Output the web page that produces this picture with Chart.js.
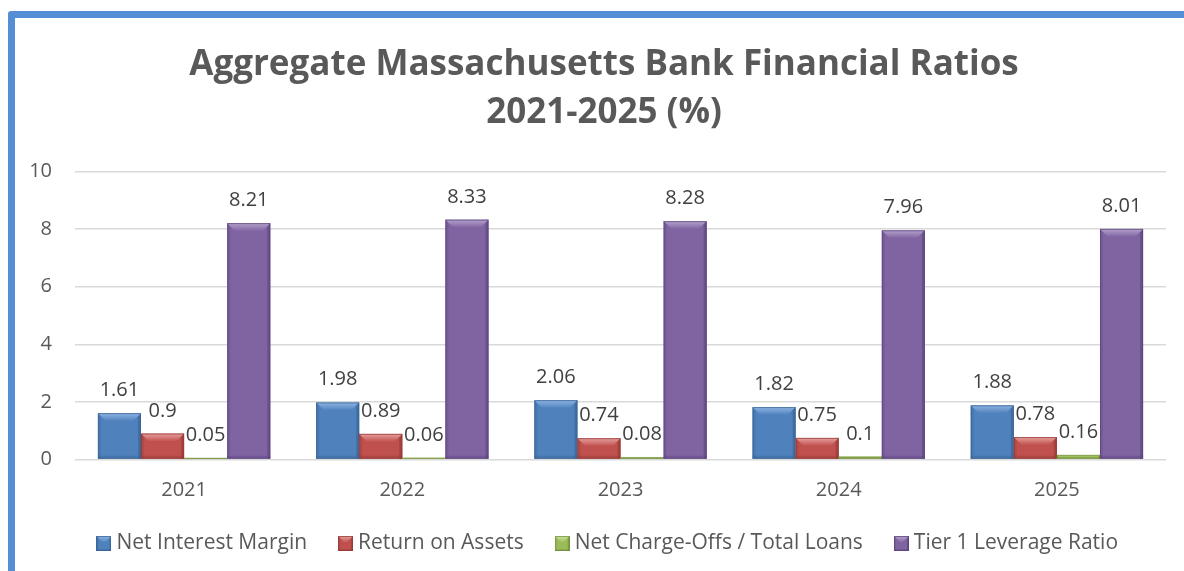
<!DOCTYPE html>
<html>
<head>
<meta charset="utf-8">
<script src="https://cdn.jsdelivr.net/npm/chart.js@4.4.1/dist/chart.umd.min.js"></script>
<style>
  html, body { margin: 0; padding: 0; background: #fff; overflow: hidden; width: 1184px; height: 571px; }
  #frame { position: absolute; left: 8px; top: 11px; width: 1200px; height: 600px; border: 7px solid #558ED5; border-radius: 3px; background: #fff; }
  #box { position: absolute; left: 0; top: 0; width: 1169px; height: 553px; }
</style>
</head>
<body>
<div id="frame"><div id="box"><canvas id="c"></canvas></div></div>
<script>
  // ── datos ──
  var YEARS = ['2021', '2022', '2023', '2024', '2025'];
  var NIM = [1.61, 1.98, 2.06, 1.82, 1.88];          // Net Interest Margin
  var ROA = [0.9, 0.89, 0.74, 0.75, 0.78];           // Return on Assets
  var NCO = [0.05, 0.06, 0.08, 0.1, 0.16];           // Net Charge-Offs / Total Loans
  var TIER1 = [8.21, 8.33, 8.28, 7.96, 8.01];        // Tier 1 Leverage Ratio
  var Y_TICKS = [0, 2, 4, 6, 8, 10];

  var FONT = "'Open Sans', 'Noto Sans', sans-serif";
  var GREY = '#595959';

  // cara / bisel superior / sombra lateral
  var PAL = {
    blue:   ['#4F81BD', '#8FB5E4', '#36608F'],
    red:    ['#C0504D', '#E7A19F', '#8E3634'],
    green:  ['#9BBB59', '#CDE3A0', '#6F8C37'],
    purple: ['#8064A2', '#B5A3CB', '#58407A']
  };

  function bevel(ctx, left, top, right, bottom, pal, b, s) {
    ctx.save();
    ctx.fillStyle = pal[0];
    ctx.fillRect(left, top, right - left, bottom - top);
    // laterales
    ctx.fillStyle = pal[2];
    ctx.globalAlpha = 0.55;
    ctx.fillRect(right - s, top, s, bottom - top);
    ctx.globalAlpha = 0.25;
    ctx.fillRect(left, top, s, bottom - top);
    ctx.globalAlpha = 0.35;
    ctx.fillRect(left, bottom - s, right - left, s);
    // bisel superior
    ctx.globalAlpha = 1;
    var g = ctx.createLinearGradient(0, top, 0, top + b);
    g.addColorStop(0, pal[1]);
    g.addColorStop(1, pal[0]);
    ctx.fillStyle = g;
    var ib = Math.min(b, (right - left) / 2);
    ctx.beginPath();
    ctx.moveTo(left, top); ctx.lineTo(right, top);
    ctx.lineTo(right - ib, top + b); ctx.lineTo(left + ib, top + b);
    ctx.closePath(); ctx.fill();
    // contorno
    ctx.globalAlpha = 0.7;
    ctx.strokeStyle = pal[2];
    ctx.lineWidth = 1;
    ctx.strokeRect(left + 0.5, top + 0.5, right - left - 1, bottom - top - 1);
    ctx.restore();
  }

  function marker(pal) {
    var cv = document.createElement('canvas');
    cv.width = 15; cv.height = 15;
    bevel(cv.getContext('2d'), 0, 0, 15, 15, pal, 7, 2);
    return cv;
  }

  // bisel estilo Excel + etiquetas de valor
  var barDeco = {
    id: 'barDeco',
    afterLayout: function (chart) {
      // título y leyenda del original algo desplazados a la derecha
      chart.titleBlock.left += 13.5; chart.titleBlock.right += 13.5;
      chart.legend.left += 19.5; chart.legend.right += 19.5;
    },
    afterDatasetsDraw: function (chart) {
      var ctx = chart.ctx;
      chart.data.datasets.forEach(function (ds, i) {
        var meta = chart.getDatasetMeta(i);
        meta.data.forEach(function (el) {
          var w = el.width, l = el.x - w / 2, r = el.x + w / 2;
          var h = el.base - el.y;
          if (h <= 0) return;
          var b = Math.min(8, h / 2);
          bevel(ctx, l, el.y, r, el.base, ds._pal, b, Math.min(3, b));
        });
      });
      ctx.save();
      ctx.font = '20px ' + FONT;
      ctx.fillStyle = '#404040';
      ctx.textAlign = 'center';
      ctx.textBaseline = 'alphabetic';
      chart.data.datasets.forEach(function (ds, i) {
        var meta = chart.getDatasetMeta(i);
        meta.data.forEach(function (el, j) {
          ctx.fillText(String(ds.data[j]), el.x, el.y - 17);
        });
      });
      ctx.restore();
    }
  };

  function ds(label, data, pal) {
    return { label: label, data: data, _pal: pal, backgroundColor: 'rgba(0,0,0,0)', borderWidth: 0,
      pointStyle: marker(pal), barPercentage: 1, categoryPercentage: 0.79 };
  }

  new Chart(document.getElementById('c'), {
    type: 'bar',
    data: {
      labels: YEARS,
      datasets: [
        ds('Net Interest Margin', NIM, PAL.blue),
        ds('Return on Assets', ROA, PAL.red),
        ds('Net Charge-Offs / Total Loans', NCO, PAL.green),
        ds('Tier 1 Leverage Ratio', TIER1, PAL.purple)
      ]
    },
    options: {
      responsive: true, maintainAspectRatio: false, animation: false,
      layout: { padding: { top: 23, right: 18, left: 0, bottom: 7 } },
      plugins: {
        title: { display: true, text: ['Aggregate Massachusetts Bank Financial Ratios', '2021-2025 (%)'],
          color: GREY, font: { family: FONT, size: 35, weight: 'bold', lineHeight: 1.38 }, padding: { top: 0, bottom: 34 } },
        legend: { position: 'bottom',
          labels: { usePointStyle: true, pointStyleWidth: 4, color: GREY, font: { family: FONT, size: 21 }, padding: 36.5 } },
        tooltip: { enabled: false }
      },
      scales: {
        x: { grid: { display: false, drawTicks: false }, border: { display: false },
          afterFit: function (ax) { ax.height = 37; },
          ticks: { color: GREY, font: { family: FONT, size: 20 }, padding: 19 } },
        y: { min: 0, max: 10, border: { display: false },
          afterBuildTicks: function (ax) { ax.ticks = Y_TICKS.map(function (v) { return { value: v }; }); },
          afterFit: function (ax) { ax.width = 60; },
          grid: { color: '#D9D9D9', lineWidth: 1.5, drawTicks: false },
          ticks: { color: GREY, font: { family: FONT, size: 20 }, padding: 23 } }
      }
    },
    plugins: [barDeco]
  });
</script>
</body>
</html>
